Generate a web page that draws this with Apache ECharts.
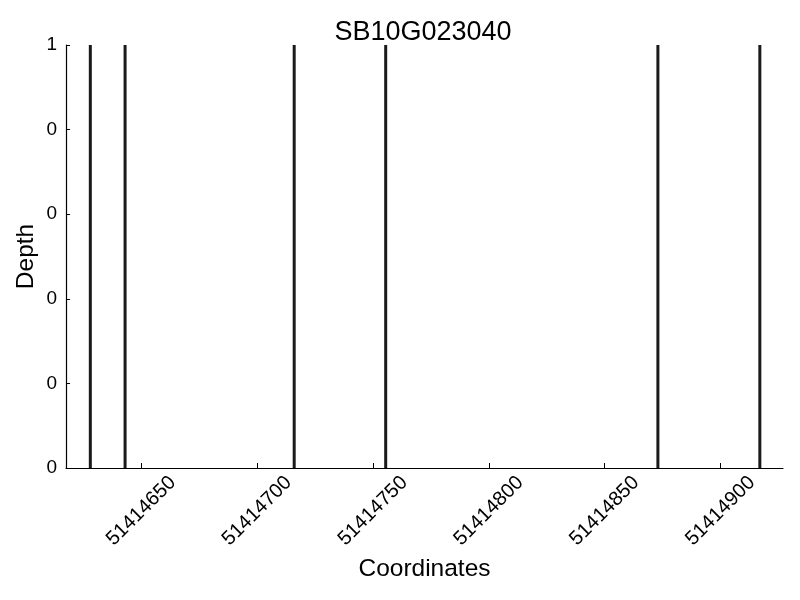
<!DOCTYPE html>
<html>
<head>
<meta charset="utf-8">
<script src="https://cdn.jsdelivr.net/npm/echarts@6/dist/echarts.min.js"></script>
<style>html,body{margin:0;padding:0;background:#fff}#c{width:800px;height:600px}</style>
</head>
<body>
<div id="c"></div>
<script>
const title = 'SB10G023040';
const positions = [51414628, 51414643, 51414716, 51414755.5, 51414873, 51414917];
const depths = [1, 1, 1, 1, 1, 1];
const xTicks = [51414650, 51414700, 51414750, 51414800, 51414850, 51414900];
const yTicks = [0, 0.2, 0.4, 0.6, 0.8, 1];
const yTickLabels = ['0', '0', '0', '0', '0', '1'];
const xMin = 51414617.5, xMax = 51414927;

const font = 'Liberation Sans, Arial, sans-serif';
const chart = echarts.init(document.getElementById('c'));
chart.setOption({
  animation: false,
  backgroundColor: '#fff',
  title: {
    text: title, left: 418, top: 14, textAlign: 'center',
    textStyle: { fontFamily: font, fontSize: 27, fontWeight: 'normal', color: '#000' }
  },
  grid: { left: 66, right: 17, top: 45, bottom: 132 },
  xAxis: {
    type: 'value', min: xMin, max: xMax,
    name: 'Coordinates', nameLocation: 'middle', nameGap: 88,
    nameTextStyle: { fontFamily: font, fontSize: 24.5, color: '#000' },
    axisLine: { lineStyle: { color: '#000', width: 1.2 } },
    axisTick: { inside: true, length: 5, customValues: xTicks, lineStyle: { color: '#000' } },
    axisLabel: {
      customValues: xTicks, rotate: 45, align: 'center', verticalAlign: 'middle', margin: 43,
      fontFamily: font, fontSize: 20, color: '#000', formatter: v => String(v)
    },
    splitLine: { show: false }
  },
  yAxis: {
    type: 'value', min: 0, max: 1,
    name: 'Depth', nameLocation: 'middle', nameGap: 27, nameMoveOverlap: false,
    nameTextStyle: { fontFamily: font, fontSize: 24.5, color: '#000' },
    axisLine: { show: true, lineStyle: { color: '#000', width: 1.2 } },
    axisTick: { show: true, inside: true, length: 4, customValues: yTicks, lineStyle: { color: '#000' } },
    axisLabel: {
      customValues: yTicks, margin: 9, fontFamily: font, fontSize: 19, color: '#000',
      formatter: v => yTickLabels[yTicks.findIndex(t => Math.abs(t - v) < 1e-9)]
    },
    splitLine: { show: false }
  },
  series: [{
    type: 'bar', barWidth: 3,
    data: positions.map((p, i) => [p, depths[i]]),
    itemStyle: { color: '#1a1a1a' }
  }]
});
</script>
</body>
</html>
